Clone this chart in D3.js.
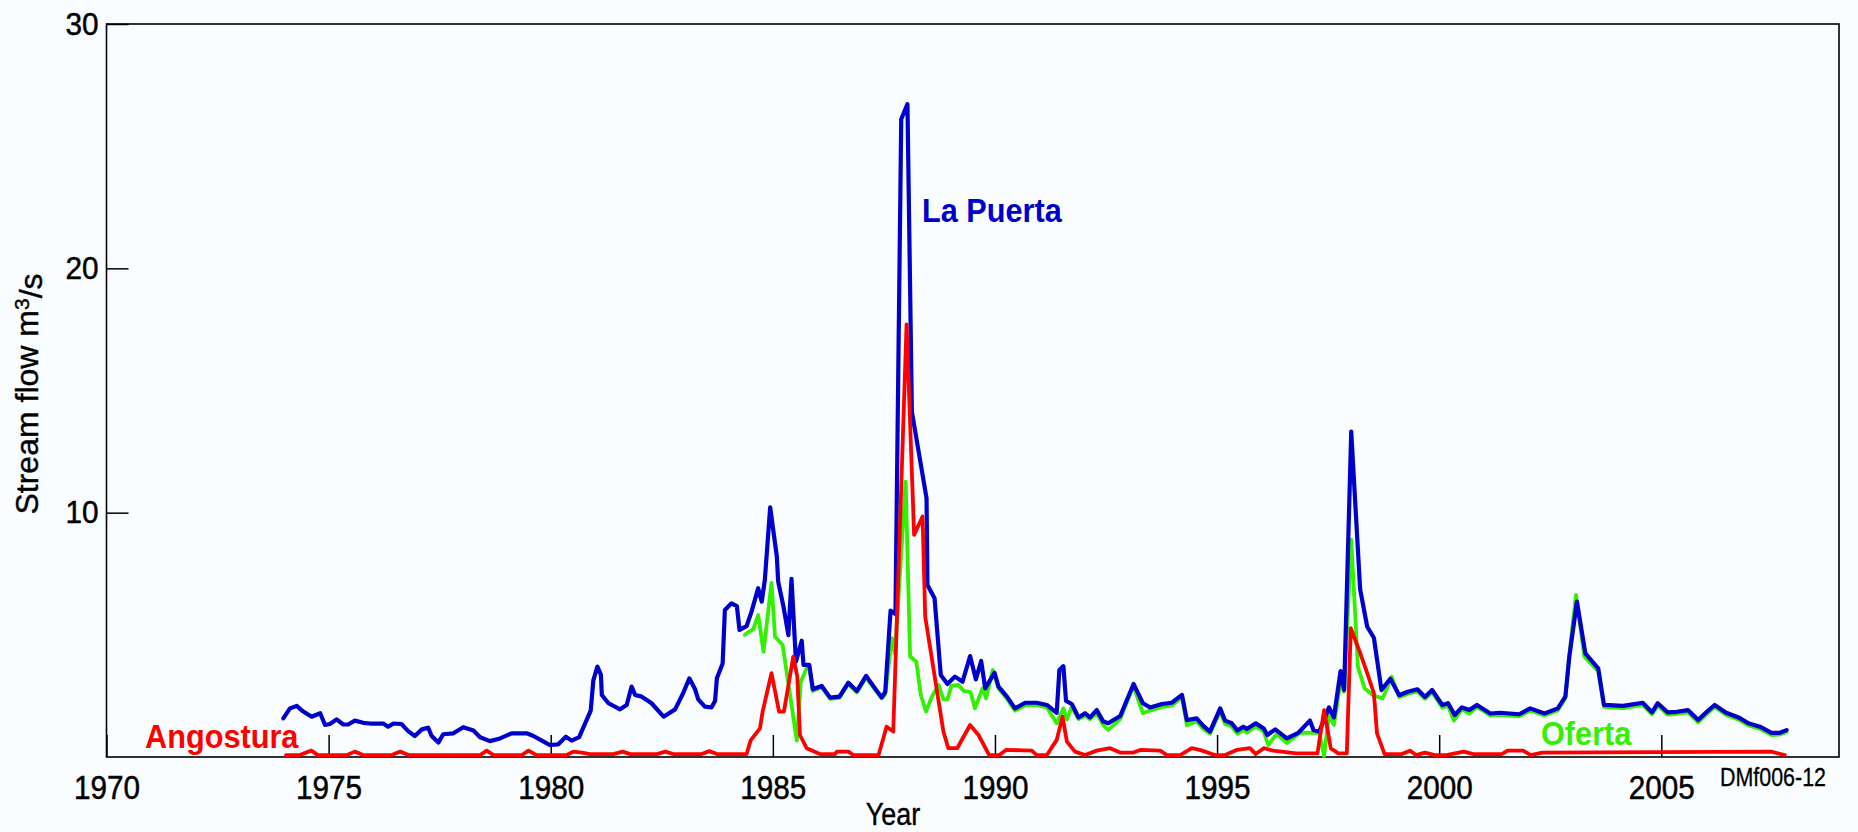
<!DOCTYPE html>
<html><head><meta charset="utf-8">
<script src="https://cdn.jsdelivr.net/npm/d3@7"></script>
<style>
html,body{margin:0;padding:0;background:#fafdff;}
svg{display:block;font-family:"Liberation Sans",Arial,Helvetica,sans-serif;}
</style>
</head><body>
<svg id="chart" width="1858" height="832"></svg>
<script>
// ---- data ----
const yearTicks = [1970, 1975, 1980, 1985, 1990, 1995, 2000, 2005];
const flowTicks = [10, 20, 30];

const laPuerta = [[1973.98,1.58],[1974.13,1.99],[1974.28,2.09],[1974.43,1.86],[1974.62,1.65],[1974.81,1.79],[1974.92,1.31],[1975.03,1.35],[1975.18,1.54],[1975.33,1.33],[1975.44,1.33],[1975.59,1.49],[1975.78,1.40],[1975.93,1.37],[1976.23,1.37],[1976.34,1.24],[1976.46,1.37],[1976.64,1.35],[1976.79,1.06],[1976.94,0.86],[1977.10,1.13],[1977.24,1.20],[1977.32,0.86],[1977.47,0.59],[1977.58,0.93],[1977.81,0.97],[1978.03,1.22],[1978.26,1.08],[1978.41,0.81],[1978.63,0.65],[1978.86,0.76],[1979.12,0.97],[1979.46,0.97],[1979.61,0.86],[1979.80,0.67],[1979.98,0.49],[1980.17,0.52],[1980.34,0.83],[1980.47,0.67],[1980.64,0.81],[1980.90,1.90],[1980.96,3.15],[1981.05,3.70],[1981.13,3.36],[1981.15,2.54],[1981.30,2.20],[1981.56,1.95],[1981.71,2.13],[1981.82,2.88],[1981.90,2.54],[1982.05,2.47],[1982.27,2.20],[1982.54,1.65],[1982.80,1.95],[1982.98,2.61],[1983.12,3.22],[1983.25,2.77],[1983.32,2.36],[1983.47,2.06],[1983.62,2.03],[1983.70,2.30],[1983.74,3.22],[1983.87,3.83],[1983.92,6.02],[1984.07,6.29],[1984.19,6.18],[1984.25,5.20],[1984.41,5.36],[1984.52,5.95],[1984.67,6.91],[1984.75,6.36],[1984.82,7.25],[1984.94,10.22],[1985.09,8.20],[1985.12,7.18],[1985.24,6.15],[1985.35,4.99],[1985.42,7.29],[1985.52,3.90],[1985.65,4.76],[1985.69,3.77],[1985.82,3.77],[1985.90,2.77],[1986.10,2.91],[1986.29,2.43],[1986.50,2.47],[1986.70,3.04],[1986.89,2.70],[1987.10,3.32],[1987.26,2.91],[1987.45,2.44],[1987.53,2.67],[1987.65,5.99],[1987.76,5.85],[1987.89,26.1],[1988.03,26.72],[1988.13,14.13],[1988.46,10.59],[1988.48,7.04],[1988.64,6.50],[1988.78,3.36],[1988.93,2.99],[1989.10,3.29],[1989.27,3.08],[1989.44,4.13],[1989.57,3.18],[1989.69,3.93],[1989.78,2.81],[1989.99,3.45],[1990.08,2.88],[1990.27,2.47],[1990.45,1.99],[1990.68,2.22],[1990.94,2.22],[1991.17,2.13],[1991.39,1.81],[1991.45,3.56],[1991.54,3.72],[1991.60,2.30],[1991.73,2.17],[1991.88,1.62],[1992.03,1.79],[1992.14,1.62],[1992.29,1.92],[1992.44,1.45],[1992.55,1.38],[1992.82,1.68],[1993.12,2.99],[1993.33,2.20],[1993.49,2.03],[1993.76,2.17],[1993.98,2.22],[1994.21,2.54],[1994.32,1.51],[1994.54,1.58],[1994.69,1.27],[1994.84,1.04],[1995.07,1.99],[1995.18,1.49],[1995.33,1.38],[1995.46,1.08],[1995.59,1.24],[1995.67,1.15],[1995.87,1.38],[1996.05,1.17],[1996.13,0.90],[1996.31,1.13],[1996.57,0.76],[1996.83,0.99],[1997.09,1.49],[1997.17,1.11],[1997.30,1.04],[1997.52,2.03],[1997.63,1.62],[1997.78,3.52],[1997.86,2.74],[1998.02,13.32],[1998.22,6.87],[1998.38,5.33],[1998.53,4.88],[1998.70,2.74],[1998.90,3.20],[1999.10,2.53],[1999.29,2.67],[1999.51,2.77],[1999.68,2.46],[1999.84,2.74],[2000.07,2.13],[2000.20,2.20],[2000.35,1.72],[2000.51,2.03],[2000.68,1.92],[2000.85,2.13],[2001.15,1.78],[2001.37,1.81],[2001.80,1.75],[2002.05,1.99],[2002.37,1.78],[2002.67,1.99],[2002.84,2.47],[2002.93,4.11],[2003.10,6.36],[2003.29,4.24],[2003.58,3.63],[2003.71,2.13],[2004.14,2.09],[2004.58,2.22],[2004.79,1.83],[2004.92,2.20],[2005.14,1.83],[2005.35,1.85],[2005.60,1.92],[2005.83,1.51],[2006.00,1.81],[2006.20,2.13],[2006.46,1.81],[2006.74,1.62],[2006.96,1.38],[2007.22,1.24],[2007.48,0.99],[2007.67,0.99],[2007.82,1.10]];

const oferta = [[1984.37,5.00],[1984.41,5.06],[1984.56,5.23],[1984.67,5.81],[1984.79,4.31],[1984.97,7.13],[1985.05,4.92],[1985.22,4.58],[1985.54,0.67],[1985.63,3.08],[1985.76,3.63],[1985.82,3.70],[1985.90,2.70],[1986.10,2.85],[1986.29,2.38],[1986.50,2.42],[1986.70,2.98],[1986.89,2.64],[1987.10,3.25],[1987.26,2.85],[1987.45,2.40],[1987.53,2.55],[1987.68,4.86],[1987.75,4.24],[1987.99,11.27],[1988.09,4.11],[1988.23,3.90],[1988.33,2.54],[1988.45,1.86],[1988.58,2.47],[1988.73,2.95],[1988.84,2.36],[1988.93,2.36],[1989.02,2.91],[1989.18,2.95],[1989.29,2.71],[1989.45,2.66],[1989.55,1.99],[1989.72,2.81],[1989.80,2.40],[1989.95,3.56],[1990.08,2.81],[1990.27,2.38],[1990.45,1.90],[1990.68,2.12],[1990.94,2.12],[1991.17,2.03],[1991.39,1.38],[1991.54,1.99],[1991.62,1.54],[1991.73,2.06],[1991.88,1.55],[1992.03,1.70],[1992.14,1.55],[1992.29,1.80],[1992.44,1.30],[1992.55,1.11],[1992.82,1.55],[1993.12,2.90],[1993.33,1.79],[1993.49,1.90],[1993.76,2.05],[1993.98,2.10],[1994.21,2.45],[1994.32,1.30],[1994.54,1.45],[1994.69,1.15],[1994.84,0.95],[1995.07,1.85],[1995.18,1.35],[1995.33,1.25],[1995.46,0.95],[1995.59,1.10],[1995.67,1.00],[1995.87,1.25],[1996.05,1.05],[1996.15,0.49],[1996.34,0.94],[1996.57,0.57],[1996.87,0.99],[1997.17,1.00],[1997.30,0.97],[1997.41,0.04],[1997.52,1.72],[1997.63,1.31],[1997.78,3.08],[1997.86,2.67],[1998.02,8.90],[1998.17,3.70],[1998.32,2.81],[1998.51,2.53],[1998.73,2.40],[1998.93,3.29],[1999.10,2.45],[1999.29,2.58],[1999.51,2.68],[1999.68,2.38],[1999.84,2.65],[2000.07,2.02],[2000.20,2.10],[2000.33,1.49],[2000.51,1.95],[2000.68,1.78],[2000.85,2.05],[2001.15,1.70],[2001.37,1.72],[2001.80,1.66],[2002.05,1.90],[2002.37,1.70],[2002.67,1.90],[2002.84,2.40],[2002.93,4.20],[2003.08,6.63],[2003.27,4.10],[2003.58,3.50],[2003.71,2.05],[2004.14,2.00],[2004.58,2.13],[2004.79,1.74],[2004.92,2.10],[2005.14,1.74],[2005.35,1.76],[2005.60,1.83],[2005.83,1.42],[2006.00,1.72],[2006.20,2.05],[2006.46,1.72],[2006.74,1.53],[2006.96,1.29],[2007.22,1.15],[2007.48,0.90],[2007.67,0.92],[2007.82,1.02]];

const angostura = [[1974.04,0.08],[1974.35,0.08],[1974.61,0.26],[1974.76,0.08],[1975.41,0.08],[1975.59,0.22],[1975.78,0.08],[1976.42,0.08],[1976.61,0.22],[1976.80,0.08],[1978.41,0.08],[1978.56,0.26],[1978.71,0.08],[1979.35,0.08],[1979.50,0.26],[1979.68,0.08],[1980.36,0.08],[1980.51,0.22],[1980.70,0.18],[1980.88,0.12],[1981.41,0.12],[1981.62,0.22],[1981.79,0.12],[1982.39,0.12],[1982.58,0.22],[1982.76,0.12],[1983.40,0.12],[1983.57,0.24],[1983.74,0.12],[1984.41,0.12],[1984.50,0.68],[1984.71,1.17],[1984.77,1.86],[1984.97,3.43],[1985.14,1.86],[1985.25,1.86],[1985.46,4.11],[1985.55,3.29],[1985.61,0.90],[1985.76,0.36],[1986.06,0.12],[1986.40,0.12],[1986.44,0.22],[1986.70,0.22],[1986.81,0.08],[1987.38,0.08],[1987.56,1.24],[1987.71,1.04],[1988.01,17.71],[1988.18,9.09],[1988.37,9.84],[1988.43,5.74],[1988.84,1.04],[1988.95,0.36],[1989.15,0.36],[1989.44,1.31],[1989.63,0.90],[1989.87,0.08],[1990.10,0.08],[1990.25,0.29],[1990.83,0.26],[1990.94,0.08],[1991.17,0.08],[1991.39,0.70],[1991.52,1.65],[1991.62,0.63],[1991.80,0.22],[1992.03,0.08],[1992.29,0.26],[1992.59,0.36],[1992.82,0.18],[1993.12,0.18],[1993.27,0.29],[1993.72,0.26],[1993.87,0.08],[1994.17,0.08],[1994.43,0.36],[1994.61,0.29],[1994.95,0.08],[1995.18,0.08],[1995.44,0.29],[1995.74,0.36],[1995.87,0.12],[1996.05,0.36],[1996.26,0.26],[1996.78,0.15],[1997.26,0.15],[1997.41,1.92],[1997.56,0.35],[1997.73,0.15],[1997.92,0.15],[1998.01,5.27],[1998.21,4.31],[1998.38,3.43],[1998.53,2.61],[1998.60,0.97],[1998.77,0.12],[1999.16,0.12],[1999.34,0.26],[1999.48,0.08],[1999.68,0.18],[1999.90,0.08],[2000.16,0.08],[2000.55,0.22],[2000.77,0.12],[2001.41,0.12],[2001.54,0.26],[2001.89,0.26],[2002.06,0.08],[2002.32,0.18],[2007.47,0.22],[2007.78,0.08]];

// ---- layout ----
const svg = d3.select("#chart");
const x = d3.scaleLinear().domain([1970, 2009]).range([106.5, 1839]);
const y = d3.scaleLinear().domain([0, 30]).range([757, 24]);
const FONT = "'Liberation Sans',Arial,sans-serif";

// x axis
const gx = svg.append("g").attr("transform", `translate(0,${y(0)})`)
  .call(d3.axisBottom(x).tickValues(yearTicks).tickFormat(d3.format("d"))
        .tickSizeInner(-22).tickSizeOuter(0).tickPadding(18.6));
gx.select(".domain").remove();
gx.selectAll(".tick line").attr("stroke", "#000").attr("stroke-width", 1.5);
gx.selectAll(".tick text").attr("fill", "#000").attr("stroke", "#000").attr("stroke-width", 0.5)
  .attr("transform", "scale(0.9,1)")
  .style("font-size", "33px").style("font-family", FONT);

// y axis
const gy = svg.append("g").attr("transform", `translate(${x(1970)},0)`)
  .call(d3.axisLeft(y).tickValues(flowTicks).tickFormat(d3.format("d"))
        .tickSizeInner(-22).tickSizeOuter(0).tickPadding(8.5));
gy.select(".domain").remove();
gy.selectAll(".tick line").attr("stroke", "#000").attr("stroke-width", 1.5);
gy.selectAll(".tick text").attr("fill", "#000").attr("stroke", "#000").attr("stroke-width", 0.5)
  .attr("transform", "scale(0.93,1)")
  .style("font-size", "32px").style("font-family", FONT);

// frame
svg.append("rect")
  .attr("x", x(1970)).attr("y", y(30))
  .attr("width", x(2009) - x(1970)).attr("height", y(0) - y(30))
  .attr("fill", "none").attr("stroke", "#000").attr("stroke-width", 1.6);

// lines
const line = d3.line().x(d => x(d[0])).y(d => y(d[1]));
const series = [
  {data: oferta, color: "#33f000", w: 3.8},
  {data: laPuerta, color: "#0000cc", w: 4.2},
  {data: angostura, color: "#ff0000", w: 3.8}
];
svg.append("g").selectAll("path").data(series).join("path")
  .attr("d", s => line(s.data))
  .attr("fill", "none")
  .attr("stroke", s => s.color)
  .attr("stroke-width", s => s.w)
  .attr("stroke-linejoin", "round")
  .attr("stroke-linecap", "round");

// series labels
function label(tx, ty, color, txt) {
  svg.append("text").attr("transform", `translate(${tx},${ty}) scale(0.93,1)`)
    .attr("fill", color).style("font-size", "33px").style("font-weight", "bold").text(txt);
}
label(922, 222, "#0000cc", "La Puerta");
label(145, 748, "#ff0000", "Angostura");
label(1541, 745, "#33f000", "Oferta");

// axis titles
svg.append("text").attr("transform", "translate(893,825) scale(0.87,1)")
  .attr("text-anchor", "middle").attr("stroke", "#000").attr("stroke-width", 0.4)
  .style("font-size", "31px").text("Year");
const yt = svg.append("text")
  .attr("transform", "translate(37.5,394) rotate(-90)")
  .attr("text-anchor", "middle").attr("stroke", "#000").attr("stroke-width", 0.4)
  .style("font-size", "32px");
yt.append("tspan").text("Stream flow m");
yt.append("tspan").attr("dy", "-0.42em").style("font-size", "21px").text("3");
yt.append("tspan").attr("dy", "0.42em").text("/s");

// figure id
svg.append("text").attr("x", 1720).attr("y", 786)
  .attr("textLength", 106).attr("lengthAdjust", "spacingAndGlyphs")
  .attr("stroke", "#000").attr("stroke-width", 0.3)
  .style("font-size", "25px").text("DMf006-12");
</script>
</body></html>
